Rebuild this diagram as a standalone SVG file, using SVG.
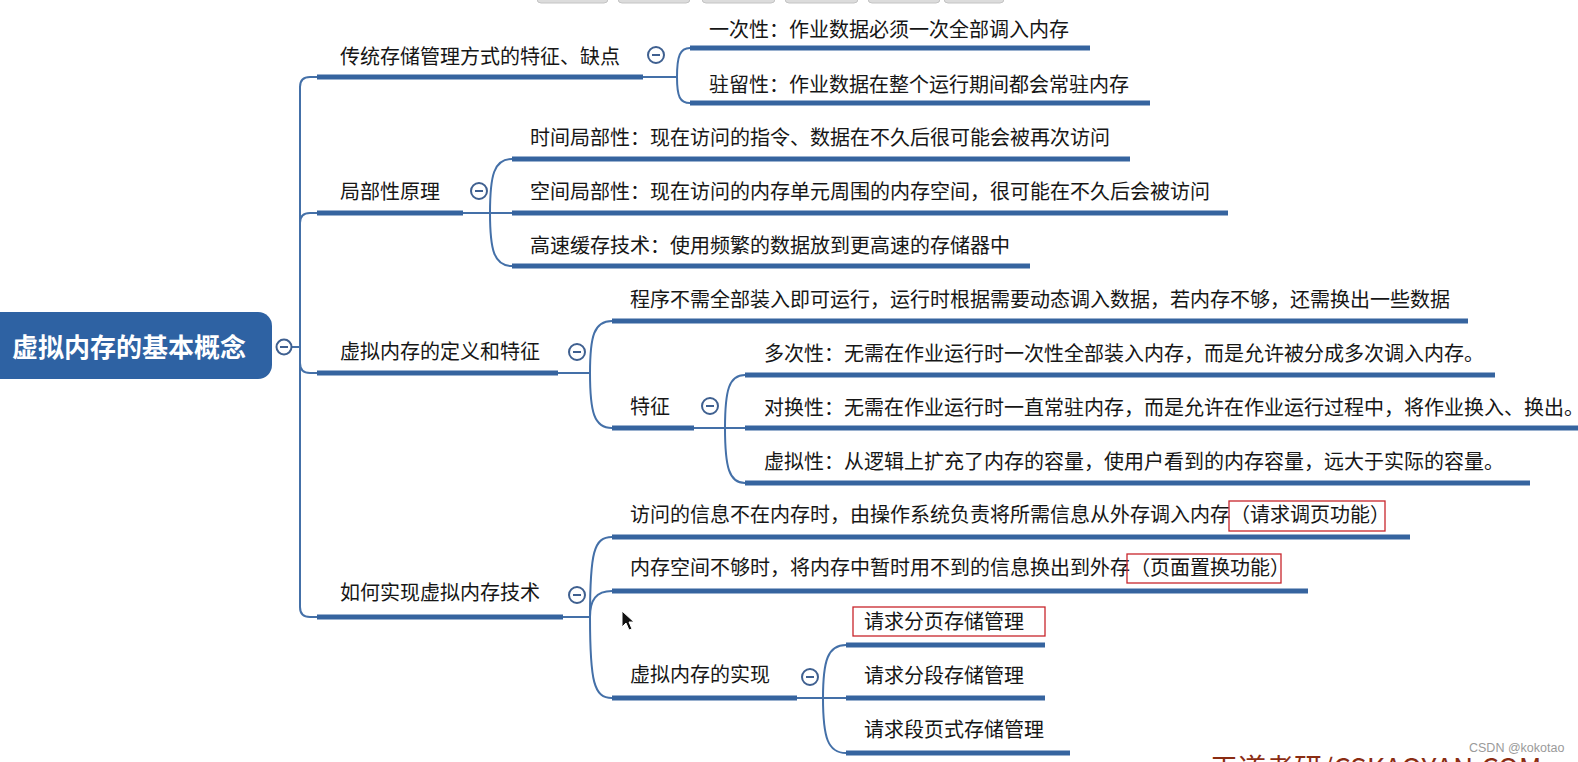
<svg xmlns="http://www.w3.org/2000/svg" width="1578" height="762" viewBox="0 0 1578 762">
<style>
.t{font-family:"Noto Sans CJK SC","Noto Sans",sans-serif;font-size:20px;fill:#161616}
.u{stroke:#36649f;stroke-width:5;fill:none}
.c{stroke:#4470a8;stroke-width:2;fill:none}
.tg circle{fill:#fff;stroke:#3f6090;stroke-width:2}
.tg line{stroke:#3f6090;stroke-width:2}
.rb{fill:none;stroke:#c8252b;stroke-width:1.3}
.btn{fill:#dcdcdc;stroke:#c4c4c4;stroke-width:1}
</style>
<rect width="1578" height="762" fill="#fff"/>
<g id="toolbar">
<rect class="btn" x="537" y="-12" width="71" height="15" rx="4"/>
<rect class="btn" x="618" y="-12" width="72" height="15" rx="4"/>
<rect class="btn" x="702" y="-12" width="73" height="15" rx="4"/>
<rect class="btn" x="785" y="-12" width="73" height="15" rx="4"/>
<rect class="btn" x="868" y="-12" width="72" height="15" rx="4"/>
<rect class="btn" x="944" y="-12" width="60" height="15" rx="4"/>
</g>
<g id="connectors">
<path class="c" d="M291,347 H300"/>
<path class="c" d="M300,347 V87 Q300,77 310,77 H317"/>
<path class="c" d="M300,347 V223 Q300,213 310,213 H317"/>
<path class="c" d="M300,347 V363 Q300,373 310,373 H317"/>
<path class="c" d="M300,347 V607 Q300,617 310,617 H317"/>
<path class="c" d="M643,77 H677"/>
<path class="c" d="M677,77 C677,56 680,48 690,48"/>
<path class="c" d="M677,77 C677,97 680,103 690,103"/>
<path class="c" d="M463,213 H490"/>
<path class="c" d="M490,213 C490,175 494,159 512,159"/>
<path class="c" d="M490,213 H512"/>
<path class="c" d="M490,213 C490,250 494,266 512,266"/>
<path class="c" d="M558,373 H590"/>
<path class="c" d="M590,373 C590,336 594,321 612,321"/>
<path class="c" d="M590,373 C590,412 594,428 612,428"/>
<path class="c" d="M694,428 H725"/>
<path class="c" d="M725,428 C725,390 729,375 745,375"/>
<path class="c" d="M725,428 H745"/>
<path class="c" d="M725,428 C725,467 729,483 745,483"/>
<path class="c" d="M563,617 H590"/>
<path class="c" d="M590,617 C590,552 594,537 612,537"/>
<path class="c" d="M590,617 C590,600 596,591 612,591"/>
<path class="c" d="M590,617 C590,682 594,698 612,698"/>
<path class="c" d="M797,698 H823"/>
<path class="c" d="M823,698 C823,660 828,645 846,645"/>
<path class="c" d="M823,698 H846"/>
<path class="c" d="M823,698 C823,738 828,753 846,753"/>
</g>
<g id="root">
<rect x="-20" y="312" width="292" height="67" rx="14" fill="#2e62a3"/>
<text x="12" y="357" style="font-family:'Noto Sans CJK SC',sans-serif;font-size:26px;font-weight:bold;fill:#fff">虚拟内存的基本概念</text>
<g class="tg"><circle cx="284" cy="347" r="7.5"/><line x1="280" y1="347" x2="288" y2="347"/></g>
</g>
<g id="n1">
<text class="t" x="340" y="64">传统存储管理方式的特征、缺点</text>
<path class="u" d="M317,77 H643"/>
<g class="tg"><circle cx="656" cy="55" r="8"/><line x1="652" y1="55" x2="660" y2="55"/></g>
</g>
<g id="n1a"><text class="t" x="709" y="37">一次性：作业数据必须一次全部调入内存</text><path class="u" d="M690,48 H1090"/></g>
<g id="n1b"><text class="t" x="709" y="92">驻留性：作业数据在整个运行期间都会常驻内存</text><path class="u" d="M690,103 H1150"/></g>
<g id="n2">
<text class="t" x="340" y="199">局部性原理</text>
<path class="u" d="M317,213 H463"/>
<g class="tg"><circle cx="479" cy="191" r="8"/><line x1="475" y1="191" x2="483" y2="191"/></g>
</g>
<g id="n2a"><text class="t" x="530" y="145">时间局部性：现在访问的指令、数据在不久后很可能会被再次访问</text><path class="u" d="M512,159 H1130"/></g>
<g id="n2b"><text class="t" x="530" y="199">空间局部性：现在访问的内存单元周围的内存空间，很可能在不久后会被访问</text><path class="u" d="M512,213 H1228"/></g>
<g id="n2c"><text class="t" x="530" y="253">高速缓存技术：使用频繁的数据放到更高速的存储器中</text><path class="u" d="M512,266 H1030"/></g>
<g id="n3">
<text class="t" x="340" y="359">虚拟内存的定义和特征</text>
<path class="u" d="M317,373 H558"/>
<g class="tg"><circle cx="577" cy="352" r="8"/><line x1="573" y1="352" x2="581" y2="352"/></g>
</g>
<g id="n3a"><text class="t" x="630" y="307">程序不需全部装入即可运行，运行时根据需要动态调入数据，若内存不够，还需换出一些数据</text><path class="u" d="M612,321 H1468"/></g>
<g id="n3b">
<text class="t" x="630" y="414">特征</text>
<path class="u" d="M612,428 H694"/>
<g class="tg"><circle cx="710" cy="406" r="8"/><line x1="706" y1="406" x2="714" y2="406"/></g>
</g>
<g id="n3b1"><text class="t" x="764" y="361">多次性：无需在作业运行时一次性全部装入内存，而是允许被分成多次调入内存。</text><path class="u" d="M745,375 H1495"/></g>
<g id="n3b2"><text class="t" x="764" y="415">对换性：无需在作业运行时一直常驻内存，而是允许在作业运行过程中，将作业换入、换出。</text><path class="u" d="M745,428 H1580"/></g>
<g id="n3b3"><text class="t" x="764" y="469">虚拟性：从逻辑上扩充了内存的容量，使用户看到的内存容量，远大于实际的容量。</text><path class="u" d="M745,483 H1530"/></g>
<g id="n4">
<text class="t" x="340" y="600">如何实现虚拟内存技术</text>
<path class="u" d="M317,617 H563"/>
<g class="tg"><circle cx="577" cy="595" r="8"/><line x1="573" y1="595" x2="581" y2="595"/></g>
</g>
<g id="n4a">
<text class="t" x="630" y="522">访问的信息不在内存时，由操作系统负责将所需信息从外存调入内存（请求调页功能）</text>
<rect class="rb" x="1229" y="501" width="156" height="30"/>
<path class="u" d="M612,537 H1410"/>
</g>
<g id="n4b">
<text class="t" x="630" y="575">内存空间不够时，将内存中暂时用不到的信息换出到外存（页面置换功能）</text>
<rect class="rb" x="1127" y="554" width="154" height="29"/>
<path class="u" d="M612,591 H1308"/>
</g>
<g id="n4c">
<text class="t" x="630" y="682">虚拟内存的实现</text>
<path class="u" d="M612,698 H797"/>
<g class="tg"><circle cx="810" cy="677" r="8"/><line x1="806" y1="677" x2="814" y2="677"/></g>
</g>
<g id="n4c1">
<text class="t" x="864" y="629">请求分页存储管理</text>
<rect class="rb" x="853" y="607" width="192" height="29"/>
<path class="u" d="M846,645 H1045"/>
</g>
<g id="n4c2"><text class="t" x="864" y="683">请求分段存储管理</text><path class="u" d="M846,698 H1045"/></g>
<g id="n4c3"><text class="t" x="864" y="737">请求段页式存储管理</text><path class="u" d="M846,753 H1070"/></g>
<g id="cursor"><path d="M622,611 L622,627 L626,623 L629,630 L632,629 L629,622 L634,622 Z" fill="#111" stroke="#fff" stroke-width="1"/></g>
<text x="1210" y="779" style="font-family:'Noto Sans CJK SC','Liberation Sans',sans-serif;font-size:28px;fill:#8a2c12">王道考研/CSKAOYAN.COM</text>
<text x="1469" y="752" style="font-family:'Liberation Sans',sans-serif;font-size:12.5px;fill:#9a9a9a">CSDN @kokotao</text>
</svg>
